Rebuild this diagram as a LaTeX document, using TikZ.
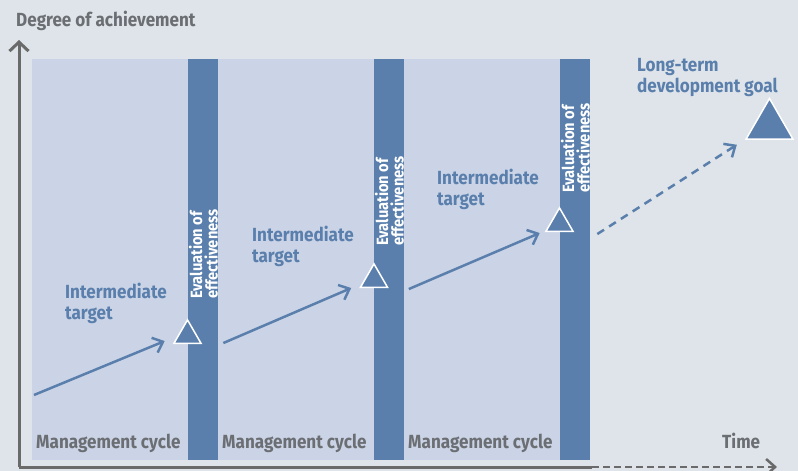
\documentclass[tikz,border=0pt]{standalone}
\usepackage{fontspec}
\setmainfont{Fira Sans}[FakeStretch=0.9]
\usetikzlibrary{arrows.meta,shapes.geometric}
\definecolor{bg}{HTML}{DEE4E9}
\definecolor{panel}{HTML}{CBD4E6}
\definecolor{bar}{HTML}{5A7FAC}
\definecolor{axis}{HTML}{6A6A6A}
\definecolor{gtext}{HTML}{6B6E72}
\begin{document}
\begin{tikzpicture}[x=1pt,y=-1pt,
  panelbox/.style={fill=panel, inner sep=0pt, minimum width=156pt, minimum height=401pt},
  barbox/.style={fill=bar, inner sep=0pt, minimum width=30pt, minimum height=401pt},
  evtext/.style={text=white, font=\fontsize{16.3}{15.5}\selectfont\bfseries, rotate=90, anchor=west, align=left, inner sep=0pt},
  bluetext/.style={text=bar, font=\fontsize{19}{20.5}\selectfont\bfseries, anchor=base west, align=left, inner sep=0pt},
  graytext/.style={text=gtext, font=\fontsize{19}{20}\selectfont\bfseries, anchor=base west, inner sep=0pt},
  tri/.style={regular polygon, regular polygon sides=3, fill=bar, draw=white, line width=1.5pt, inner sep=0pt, minimum size=31.2pt},
  flow/.style={bar, line width=2.5pt, -{Straight Barb[length=9pt,width=16pt]}},
  axisline/.style={axis, line width=3pt}
]
\fill[bg] (0,0) rectangle (798,471);
\useasboundingbox (0,0) rectangle (798,471);

% panels and bars
\node[panelbox] (p1) at (110,259.5) {};
\node[barbox] (b1) at (203,259.5) {};
\node[panelbox] (p2) at (296,259.5) {};
\node[barbox] (b2) at (389,259.5) {};
\node[panelbox] (p3) at (482,259.5) {};
\node[barbox] (b3) at (575,259.5) {};

% evaluation texts
\node[evtext] (e1) at (203.5,299) {Evaluation of\\effectiveness};
\node[evtext] (e2) at (389.5,246) {Evaluation of\\effectiveness};
\node[evtext] (e3) at (575.5,193) {Evaluation of\\effectiveness};

% axes
\coordinate (origin) at (19,467);
\coordinate (ytip) at (19,40);
\coordinate (xsolid) at (592,467);
\coordinate (xtip) at (777,467);
\draw[axisline, -{Straight Barb[length=9pt,width=19pt]}] (origin) -- (ytip);
\draw[axisline] (origin) -- (xsolid);
\draw[axis, line width=2.5pt, dash pattern=on 7pt off 4pt, -{Straight Barb[length=9pt,width=16pt]}] (xsolid) -- (xtip);

\node[graytext] (ylabel) at (16,26) {Degree of achievement};
\node[graytext] (xlabel) at (722,448) {Time};
\node[graytext] (m1) at (36,448) {Management cycle};
\node[graytext] (m2) at (222,448) {Management cycle};
\node[graytext] (m3) at (408,448) {Management cycle};

% triangles
\node[tri] (t1) at (187.5,335.5) {};
\node[tri] (t2) at (374,279.5) {};
\node[tri] (t3) at (559.5,223.5) {};
\node[tri, minimum size=54pt] (goal) at (769.5,125.5) {};

% target texts (anchor = baseline of last line)
\node[bluetext] (i1) at (65,319) {Intermediate\\target};
\node[bluetext] (i2) at (252,262) {Intermediate\\target};
\node[bluetext] (i3) at (437,205) {Intermediate\\target};
\node[bluetext] (lt) at (637,92) {Long-term\\development goal};

% arrows
\coordinate (a1s) at (34,395);
\draw[flow] (a1s) -- ([shift={(-8,-3)}]t1.corner 2);
\draw[flow] ([shift={(21,-1)}]t1.corner 3) -- ([shift={(-8,0)}]t2.corner 2);
\draw[flow] ([shift={(20,1)}]t2.corner 3) -- ([shift={(-5,1)}]t3.corner 2);
\draw[flow, dash pattern=on 8pt off 6pt] ([shift={(23,2)}]t3.corner 3) -- ([shift={(-8,5)}]goal.corner 2);
\end{tikzpicture}
\end{document}
